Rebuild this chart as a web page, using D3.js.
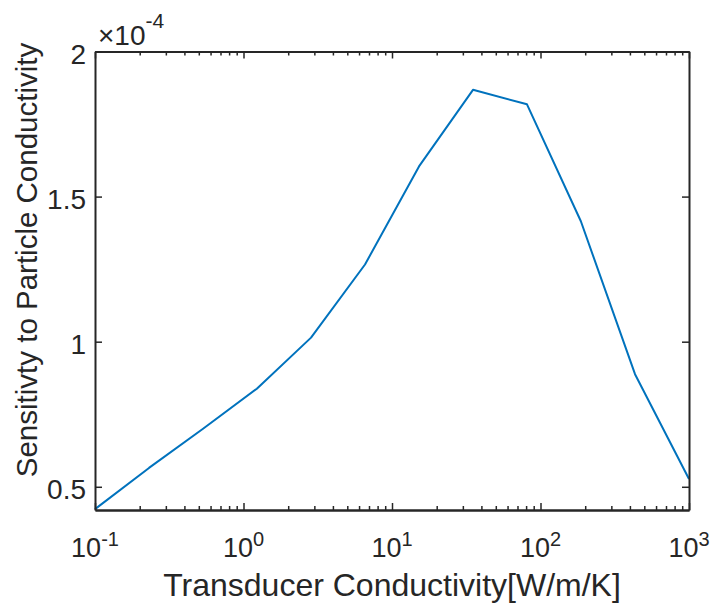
<!DOCTYPE html>
<html>
<head>
<meta charset="utf-8">
<script src="https://cdn.jsdelivr.net/npm/d3@7"></script>
<style>
  html, body { margin: 0; padding: 0; background: #fff; }
  svg { display: block; font-family: "Liberation Sans", Arial, sans-serif; }
</style>
</head>
<body>
<svg id="chart" width="715" height="607"></svg>
<script>
// transducer conductivity [W/m/K]
const conductivity = [0.1, 0.231, 0.534, 1.23, 2.85, 6.58, 15.2, 35.1, 81.1, 187, 433, 1000];
// sensitivity to particle conductivity (x 1e-4)
const sensitivity = [0.423, 0.565, 0.70, 0.838, 1.014, 1.266, 1.604, 1.868, 1.818, 1.415, 0.888, 0.527];
const xMajorTicks = [0.1, 1, 10, 100, 1000];
const xTickExponents = ["-1", "0", "1", "2", "3"];
const yTicks = [0.5, 1, 1.5, 2];
const yTickLabels = ["0.5", "1", "1.5", "2"];

const axisColor = "#262626";
const lineColor = "#0072BD";

const margin = { left: 95, right: 26, top: 51.5, bottom: 97 };
const width = 715, height = 607;

const svg = d3.select("#chart");

const x = d3.scaleLog()
  .domain([0.1, 1000])
  .range([margin.left, width - margin.right]);

const y = d3.scaleLinear()
  .domain([0.42, 2])
  .range([height - margin.bottom, margin.top]);

// minor ticks on log axis: 2..9 in each decade
const xMinorTicks = [];
xMajorTicks.slice(0, -1).forEach(d => {
  for (let k = 2; k < 10; k++) xMinorTicks.push(d * k);
});

// data line
const line = d3.line()
  .x((d, i) => x(conductivity[i]))
  .y(d => y(d));

svg.append("path")
  .datum(sensitivity)
  .attr("fill", "none")
  .attr("stroke", lineColor)
  .attr("stroke-width", 2)
  .attr("stroke-linejoin", "round")
  .attr("d", line);

// axes, ticks pointing inwards like matlab
function styleAxis(g) {
  g.select(".domain").attr("stroke", axisColor).attr("stroke-width", 2);
  g.selectAll(".tick line").attr("stroke", axisColor).attr("stroke-width", 1.5);
  g.selectAll(".tick text").remove();
}

const yBottom = y.range()[0], yTop = y.range()[1];
const xLeft = x.range()[0], xRight = x.range()[1];

svg.append("g")
  .attr("transform", `translate(0,${yBottom})`)
  .call(d3.axisBottom(x).tickValues(xMinorTicks).tickSize(-4).tickSizeOuter(0).tickFormat(""))
  .call(styleAxis);
svg.append("g")
  .attr("transform", `translate(0,${yBottom})`)
  .call(d3.axisBottom(x).tickValues(xMajorTicks).tickSize(-7).tickSizeOuter(0).tickFormat(""))
  .call(styleAxis);
svg.append("g")
  .attr("transform", `translate(0,${yTop})`)
  .call(d3.axisTop(x).tickValues(xMinorTicks).tickSize(-4).tickSizeOuter(0).tickFormat(""))
  .call(styleAxis);
svg.append("g")
  .attr("transform", `translate(0,${yTop})`)
  .call(d3.axisTop(x).tickValues(xMajorTicks).tickSize(-7).tickSizeOuter(0).tickFormat(""))
  .call(styleAxis);
svg.append("g")
  .attr("transform", `translate(${xLeft},0)`)
  .call(d3.axisLeft(y).tickValues(yTicks).tickSize(-7).tickSizeOuter(0).tickFormat(""))
  .call(styleAxis);
svg.append("g")
  .attr("transform", `translate(${xRight},0)`)
  .call(d3.axisRight(y).tickValues(yTicks).tickSize(-7).tickSizeOuter(0).tickFormat(""))
  .call(styleAxis);

// x tick labels 10^n
const xLabels = svg.append("g")
  .attr("fill", axisColor)
  .attr("font-size", 27)
  .selectAll("text")
  .data(xMajorTicks)
  .join("text")
  .attr("x", d => x(d))
  .attr("y", 556.5)
  .attr("text-anchor", "middle");
xLabels.append("tspan").text("10");
xLabels.append("tspan")
  .attr("font-size", 20)
  .attr("dy", -11)
  .text((d, i) => xTickExponents[i]);

// y tick labels
svg.append("g")
  .attr("fill", axisColor)
  .attr("font-size", 28)
  .selectAll("text")
  .data(yTicks)
  .join("text")
  .attr("x", 86)
  .attr("y", d => y(d) + 12)
  .attr("text-anchor", "end")
  .text((d, i) => yTickLabels[i]);

// exponent multiplier
const mult = svg.append("text")
  .attr("fill", axisColor)
  .attr("font-size", 28)
  .attr("x", 98)
  .attr("y", 45);
mult.append("tspan").text("\u00d710");
mult.append("tspan").attr("font-size", 21).attr("dy", -17).text("-4");

// axis titles
svg.append("text")
  .attr("fill", axisColor)
  .attr("font-size", 32)
  .attr("x", (xLeft + xRight) / 2)
  .attr("y", 596)
  .attr("text-anchor", "middle")
  .text("Transducer Conductivity[W/m/K]");

svg.append("text")
  .attr("fill", axisColor)
  .attr("font-size", 29.5)
  .attr("transform", `translate(37,260) rotate(-90)`)
  .attr("text-anchor", "middle")
  .text("Sensitivty to Particle Conductivity");
</script>
</body>
</html>
